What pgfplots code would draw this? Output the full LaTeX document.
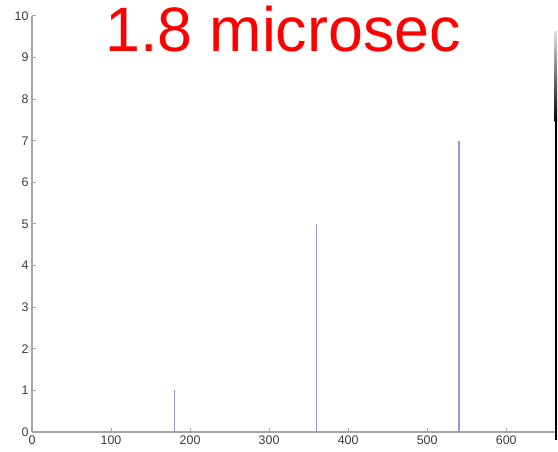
\documentclass[border=0pt]{standalone}
\usepackage{pgfplots}
\pgfplotsset{compat=1.18}
\usepackage{fontspec}
\setmainfont{Liberation Sans}
\definecolor{axisgray}{RGB}{165,165,165}
\definecolor{ticktext}{RGB}{60,60,60}
\definecolor{stemblue}{RGB}{150,150,205}
\begin{document}
\begin{tikzpicture}[x=1bp,y=1bp]
\useasboundingbox (0,0) rectangle (558,452);
\begin{axis}[
  at={(32bp,20bp)}, anchor=south west,
  scale only axis, width=524bp, height=416bp,
  xmin=0, xmax=663, ymin=0, ymax=10,
  xtick={0,100,...,600}, ytick={0,1,...,10},
  axis x line*=bottom, axis y line*=left,
  axis line style={axisgray, line width=1.2bp},
  tick style={axisgray, line width=1bp},
  tick align=inside, major tick length=4bp,
  tick label style={font=\fontsize{12.5}{12.5}\selectfont, text=ticktext},
  /pgf/number format/assume math mode=true,
  clip=false,
]
\addplot[ycomb, stemblue, line width=1.5bp, mark=none] coordinates {
  (180,1) (360,5) (540,7)
};
\end{axis}
\node[red, font=\fontsize{63}{63}\selectfont, anchor=base] at (283,400) {1.8 microsec};
% dark frame edge on the right, fading out towards the top
\shade[top color=gray!25, bottom color=black] (554.5,330) rectangle (557,420);
\fill[black] (554.5,12) rectangle (557,330.5);
\end{tikzpicture}
\end{document}
